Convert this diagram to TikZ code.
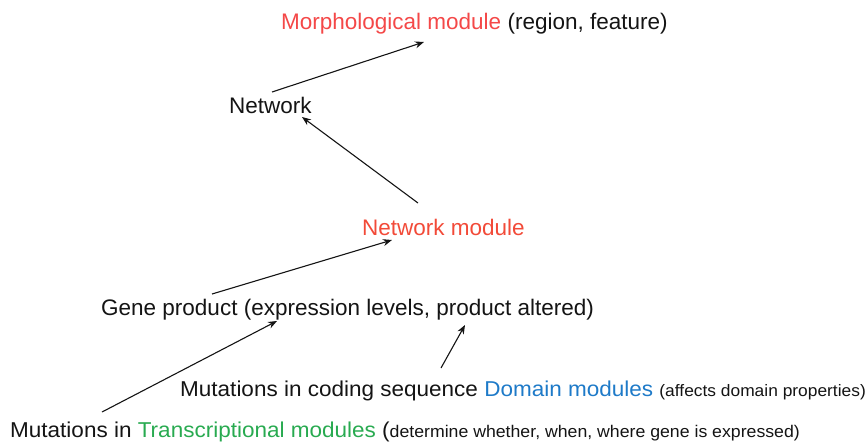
\documentclass[tikz,border=0pt]{standalone}
\usepackage{fontspec}
\setmainfont{Liberation Sans}
\usetikzlibrary{arrows.meta}
\definecolor{morph}{RGB}{244,72,72}
\definecolor{netred}{RGB}{242,74,56}
\definecolor{dom}{RGB}{30,122,200}
\definecolor{trans}{RGB}{40,170,80}
\definecolor{txt}{RGB}{20,20,20}
\newcommand{\smalltxta}{\fontsize{16.6}{19}\selectfont}
\newcommand{\smalltxtb}{\fontsize{16.9}{19}\selectfont}
\tikzset{
  lbl/.style={inner sep=0pt, text=txt, font=\fontsize{22.5}{26}\selectfont},
  lowlbl/.style={inner sep=0pt, text=txt, font=\fontsize{21.5}{25}\selectfont},
  arr/.style={-{Stealth[length=9pt,width=7pt]}, line width=1.1pt, draw=txt}
}
\begin{document}
\begin{tikzpicture}[x=1pt,y=-1pt]
\useasboundingbox (0,0) rectangle (868,442);
\node[lbl, anchor=west] (morph) at (281,24) {\textcolor{morph}{Morphological module} (region, feature)};
\node[lbl, anchor=west] (net) at (229,105) {Network};
\node[lbl, anchor=west] (netmod) at (362,227) {\textcolor{netred}{Network module}};
\node[lbl, anchor=west] (gene) at (101,310) {Gene product (expression levels, product altered)};
\node[lowlbl, anchor=west] (dommut) at (180,391) {\scalebox{1.047}[1]{Mutations in coding sequence \textcolor{dom}{Domain modules} {\smalltxta(affects domain properties)}}};
\node[lowlbl, anchor=west] (transmut) at (10,432) {\scalebox{1.047}[1]{Mutations in \textcolor{trans}{Transcriptional modules} ({\smalltxtb determine whether, when, where gene is expressed)}}};
\coordinate (a1s) at (272,92);  \coordinate (a1e) at (424,42);
\coordinate (a2s) at (418,203); \coordinate (a2e) at (302,117);
\coordinate (a3s) at (212,294); \coordinate (a3e) at (392,240);
\coordinate (a4s) at (102,412); \coordinate (a4e) at (277,321);
\coordinate (a5s) at (441,368); \coordinate (a5e) at (465,325);
\draw[arr] (a1s) -- (a1e);
\draw[arr] (a2s) -- (a2e);
\draw[arr] (a3s) -- (a3e);
\draw[arr] (a4s) -- (a4e);
\draw[arr] (a5s) -- (a5e);
\end{tikzpicture}
\end{document}
